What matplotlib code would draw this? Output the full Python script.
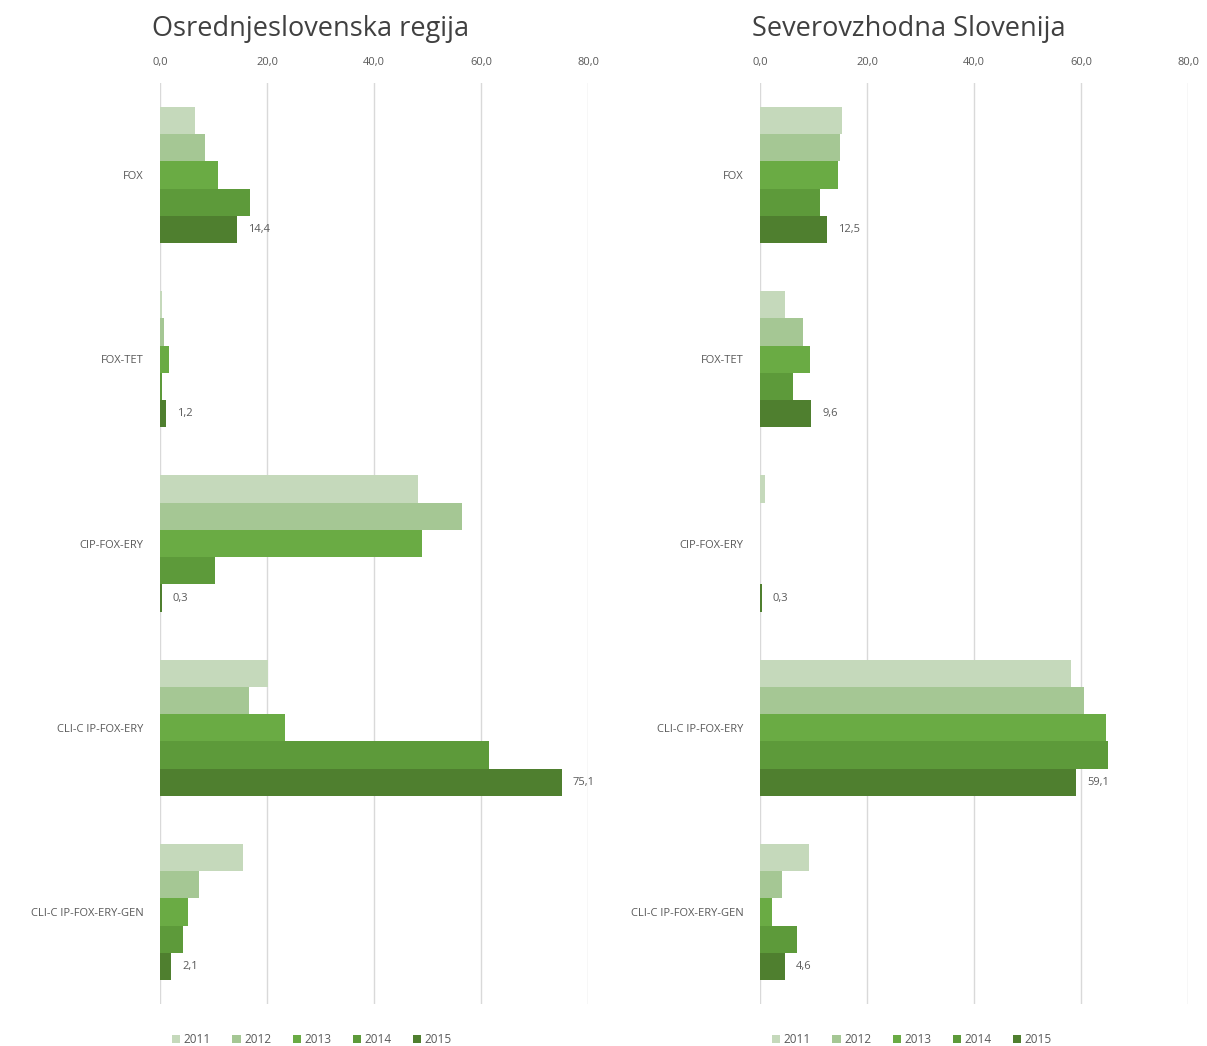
import matplotlib
matplotlib.use("Agg")
import matplotlib.pyplot as plt
import numpy as np
from matplotlib.patches import Patch

plt.rcParams['font.family'] = ['Open Sans', 'DejaVu Sans']

categories = ["FOX", "FOX-TET", "CIP-FOX-ERY", "CLI-C IP-FOX-ERY", "CLI-C IP-FOX-ERY-GEN"]
years = ["2011", "2012", "2013", "2014", "2015"]
colors = ["#c5d9bb", "#a5c794", "#6aab44", "#5d9a3a", "#4f7f2f"]

# Osrednjeslovenska regija
osr_2011 = [6.5, 0.3, 48.2, 20.1, 15.5]
osr_2012 = [8.5, 0.8, 56.4, 16.7, 7.3]
osr_2013 = [10.9, 1.6, 49.0, 23.4, 5.3]
osr_2014 = [16.8, 0.3, 10.3, 61.5, 4.3]
osr_2015 = [14.4, 1.2, 0.3, 75.1, 2.1]

# Severovzhodna Slovenija
sv_2011 = [15.3, 4.7, 0.9, 58.1, 9.2]
sv_2012 = [14.9, 8.0, 0.0, 60.6, 4.2]
sv_2013 = [14.6, 9.3, 0.0, 64.6, 2.2]
sv_2014 = [11.3, 6.2, 0.0, 65.1, 7.0]
sv_2015 = [12.5, 9.6, 0.3, 59.1, 4.6]

panels = [
    ("Osrednjeslovenska regija", [osr_2011, osr_2012, osr_2013, osr_2014, osr_2015]),
    ("Severovzhodna Slovenija", [sv_2011, sv_2012, sv_2013, sv_2014, sv_2015]),
]

fig = plt.figure(figsize=(12.07, 10.46), dpi=100)
W, H = 1207, 1046
lefts = [160, 760]
ax_w = 428
top_px, bot_px = 83, 1004

grey = "#595959"
y = np.arange(len(categories))
group = 0.74
bh = group / len(years)

for (title, series), lpx in zip(panels, lefts):
    ax = fig.add_axes([lpx / W, 1 - bot_px / H, ax_w / W, (bot_px - top_px) / H])
    for i, (vals, c) in enumerate(zip(series, colors)):
        offs = -group / 2 + bh * (i + 0.5)
        bars = ax.barh(y + offs, vals, height=bh, color=c, linewidth=0, zorder=3, label=years[i])
        if i == len(years) - 1:
            for b, v in zip(bars, vals):
                ax.annotate(f"{v:.1f}".replace(".", ","),
                            (b.get_width(), b.get_y() + b.get_height() / 2),
                            xytext=(8, 0), textcoords="offset points",
                            va="center", ha="left", fontsize=8, color=grey)
    ax.set_xlim(0, 80)
    ax.set_ylim(len(categories) - 0.5, -0.5)
    ax.set_xticks([0, 20, 40, 60, 80])
    ax.set_xticklabels(["0,0", "20,0", "40,0", "60,0", "80,0"])
    ax.xaxis.tick_top()
    ax.tick_params(axis="x", length=0, pad=11, labelsize=8, labelcolor=grey)
    ax.set_yticks(y)
    ax.set_yticklabels(categories)
    ax.tick_params(axis="y", length=0, pad=12, labelsize=8, labelcolor=grey)
    ax.grid(axis="x", color="#d9d9d9", linewidth=1, zorder=0)
    for s in ax.spines.values():
        s.set_visible(False)
    ax.set_title(title, fontsize=19.5, color="#404040", loc="left", x=-0.018, pad=34)
    handles = [Patch(facecolor=c, edgecolor="none") for c in colors]
    ax.legend(handles, years, loc="upper center", bbox_to_anchor=(0.355, -0.02),
              ncol=5, frameon=False, fontsize=8.5, handlelength=0.7, handleheight=0.7,
              handletextpad=0.3, columnspacing=1.8, labelcolor=grey)

fig.savefig("out.png", dpi=100, facecolor="white")
